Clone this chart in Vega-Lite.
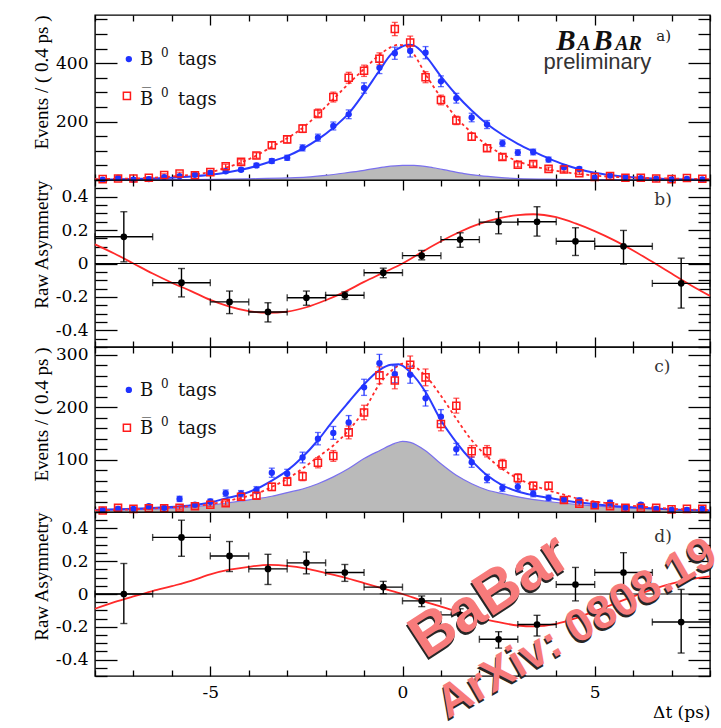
{
"$schema": "https://vega.github.io/schema/vega-lite/v6.json",
"autosize": {"type": "pad"},
"padding": {"left": 31, "top": 13, "right": 0, "bottom": 0},
"background": "white",
"spacing": 0,
"bounds": "flush",
"datasets": {
"one": [{}],
"ptsA": [
{"t":-7.8,"b":1,"be":1.0,"r":3,"re":1.7},{"t":-7.4,"b":7,"be":2.6,"r":5,"re":2.2},{"t":-7.0,"b":1,"be":1.0,"r":5,"re":2.2},{"t":-6.6,"b":3,"be":1.7,"r":8,"re":2.8},
{"t":-6.2,"b":10,"be":3.2,"r":17,"re":4.1},{"t":-5.8,"b":13,"be":3.6,"r":22,"re":4.7},{"t":-5.4,"b":18,"be":4.2,"r":16,"re":4.0},{"t":-5.0,"b":24,"be":4.9,"r":27,"re":5.2},
{"t":-4.6,"b":30,"be":5.5,"r":47,"re":6.9},{"t":-4.2,"b":35,"be":5.9,"r":62,"re":7.9},{"t":-3.8,"b":50,"be":7.1,"r":84,"re":9.2},{"t":-3.4,"b":65,"be":8.1,"r":119,"re":10.9},
{"t":-3.0,"b":76,"be":8.7,"r":139,"re":11.8},{"t":-2.6,"b":110,"be":10.5,"r":176,"re":13.3},{"t":-2.2,"b":145,"be":12.0,"r":228,"re":15.1},{"t":-1.8,"b":185,"be":13.6,"r":284,"re":16.9},
{"t":-1.4,"b":225,"be":15.0,"r":350,"re":18.7},{"t":-1.0,"b":315,"be":17.7,"r":374,"re":19.3},{"t":-0.6,"b":384,"be":19.6,"r":415,"re":20.4},{"t":-0.2,"b":434,"be":20.8,"r":517,"re":22.7},
{"t":0.2,"b":442,"be":21.0,"r":471,"re":21.7},{"t":0.6,"b":436,"be":20.9,"r":352,"re":18.8},{"t":1.0,"b":338,"be":18.4,"r":274,"re":16.6},{"t":1.4,"b":280,"be":16.7,"r":204,"re":14.3},
{"t":1.8,"b":214,"be":14.6,"r":148,"re":12.2},{"t":2.2,"b":190,"be":13.8,"r":109,"re":10.4},{"t":2.6,"b":126,"be":11.2,"r":79,"re":8.9},{"t":3.0,"b":94,"be":9.7,"r":52,"re":7.2},
{"t":3.4,"b":96,"be":9.8,"r":55,"re":7.4},{"t":3.8,"b":70,"be":8.4,"r":38,"re":6.2},{"t":4.2,"b":44,"be":6.6,"r":36,"re":6.0},{"t":4.6,"b":38,"be":6.2,"r":23,"re":4.8},
{"t":5.0,"b":8,"be":2.8,"r":10,"re":3.2},{"t":5.4,"b":15,"be":3.9,"r":14,"re":3.7},{"t":5.8,"b":10,"be":3.2,"r":8,"re":2.8},{"t":6.2,"b":6,"be":2.4,"r":8,"re":2.8},
{"t":6.6,"b":5,"be":2.2,"r":5,"re":2.2},{"t":7.0,"b":2,"be":1.4,"r":3,"re":1.7},{"t":7.4,"b":4,"be":2.0,"r":7,"re":2.6},{"t":7.8,"b":2,"be":1.4,"r":4,"re":2.0}
],
"fitAb": [
{"t":-8,"n":1},{"t":-7.5,"n":2},{"t":-7,"n":3},{"t":-6.5,"n":5},{"t":-6,"n":8},{"t":-5.5,"n":12},{"t":-5,"n":18},{"t":-4.6,"n":25},{"t":-4.2,"n":35},{"t":-3.8,"n":48},
{"t":-3.4,"n":64},{"t":-3,"n":82},{"t":-2.6,"n":107},{"t":-2.2,"n":139},{"t":-1.8,"n":179},{"t":-1.4,"n":228},{"t":-1,"n":298},{"t":-0.6,"n":375},{"t":-0.3,"n":430},{"t":0,"n":458},
{"t":0.15,"n":463},{"t":0.3,"n":460},{"t":0.6,"n":425},{"t":1,"n":355},{"t":1.4,"n":292},{"t":1.8,"n":238},{"t":2.2,"n":192},{"t":2.6,"n":155},{"t":3,"n":124},{"t":3.4,"n":98},
{"t":3.8,"n":74},{"t":4.2,"n":53},{"t":4.6,"n":37},{"t":5,"n":25},{"t":5.4,"n":17},{"t":5.8,"n":11},{"t":6.2,"n":7},{"t":7,"n":3},{"t":8,"n":1}
],
"fitAr": [
{"t":-8,"n":3},{"t":-7.5,"n":4},{"t":-7,"n":5},{"t":-6.5,"n":8},{"t":-6,"n":12},{"t":-5.5,"n":18},{"t":-5,"n":27},{"t":-4.6,"n":42},{"t":-4.2,"n":60},{"t":-3.8,"n":84},
{"t":-3.4,"n":114},{"t":-3,"n":143},{"t":-2.6,"n":178},{"t":-2.2,"n":225},{"t":-1.8,"n":277},{"t":-1.4,"n":330},{"t":-1,"n":380},{"t":-0.6,"n":428},{"t":-0.3,"n":455},{"t":-0.1,"n":463},
{"t":0.1,"n":458},{"t":0.3,"n":430},{"t":0.6,"n":362},{"t":1,"n":283},{"t":1.4,"n":214},{"t":1.8,"n":162},{"t":2.2,"n":120},{"t":2.6,"n":88},{"t":3,"n":64},{"t":3.4,"n":47},
{"t":3.8,"n":36},{"t":4.2,"n":27},{"t":4.6,"n":21},{"t":5,"n":15},{"t":5.8,"n":9},{"t":6.6,"n":6},{"t":7.4,"n":4},{"t":8,"n":3}
],
"bgA": [
{"t":-8,"n":0.5},{"t":-6,"n":1},{"t":-5,"n":2},{"t":-4,"n":4},{"t":-3,"n":7},{"t":-2.5,"n":10},{"t":-2,"n":16},{"t":-1.5,"n":24},{"t":-1,"n":33},{"t":-0.5,"n":44},
{"t":0,"n":50},{"t":0.3,"n":50},{"t":0.8,"n":42},{"t":1.2,"n":32},{"t":1.6,"n":22},{"t":2,"n":15},{"t":2.5,"n":9},{"t":3,"n":5},{"t":4,"n":2.5},{"t":5,"n":1.5},{"t":6,"n":1},{"t":8,"n":0.5}
],
"ptsC": [
{"t":-7.8,"b":4,"be":2.0,"r":3,"re":1.7},{"t":-7.4,"b":6,"be":2.4,"r":8,"re":2.8},{"t":-7.0,"b":6,"be":2.4,"r":6,"re":2.4},{"t":-6.6,"b":11,"be":3.3,"r":7,"re":2.6},
{"t":-6.2,"b":8,"be":2.8,"r":7,"re":2.6},{"t":-5.8,"b":25,"be":5.0,"r":8,"re":2.8},{"t":-5.4,"b":14,"be":3.7,"r":11,"re":3.3},{"t":-5.0,"b":20,"be":4.5,"r":14,"re":3.7},
{"t":-4.6,"b":36,"be":6.0,"r":17,"re":4.1},{"t":-4.2,"b":35,"be":5.9,"r":29,"re":5.4},{"t":-3.8,"b":42,"be":6.5,"r":31,"re":5.6},{"t":-3.4,"b":75,"be":8.7,"r":48,"re":6.9},
{"t":-3.0,"b":73,"be":8.5,"r":58,"re":7.6},{"t":-2.6,"b":104,"be":10.2,"r":68,"re":8.2},{"t":-2.2,"b":140,"be":11.8,"r":94,"re":9.7},{"t":-1.8,"b":151,"be":12.3,"r":107,"re":10.3},
{"t":-1.4,"b":171,"be":13.1,"r":152,"re":12.3},{"t":-1.0,"b":238,"be":15.4,"r":190,"re":13.8},{"t":-0.6,"b":284,"be":16.9,"r":261,"re":16.2},{"t":-0.2,"b":263,"be":16.2,"r":251,"re":15.8},
{"t":0.2,"b":262,"be":16.2,"r":281,"re":16.8},{"t":0.6,"b":217,"be":14.7,"r":257,"re":16.0},{"t":1.0,"b":182,"be":13.5,"r":168,"re":13.0},{"t":1.4,"b":120,"be":11.0,"r":203,"re":14.2},
{"t":1.8,"b":95,"be":9.7,"r":116,"re":10.8},{"t":2.2,"b":64,"be":8.0,"r":116,"re":10.8},{"t":2.6,"b":46,"be":6.8,"r":91,"re":9.5},{"t":3.0,"b":48,"be":6.9,"r":65,"re":8.1},
{"t":3.4,"b":35,"be":5.9,"r":50,"re":7.1},{"t":3.8,"b":27,"be":5.2,"r":50,"re":7.1},{"t":4.2,"b":24,"be":4.9,"r":23,"re":4.8},{"t":4.6,"b":22,"be":4.7,"r":16,"re":4.0},
{"t":5.0,"b":13,"be":3.6,"r":13,"re":3.6},{"t":5.4,"b":18,"be":4.2,"r":11,"re":3.3},{"t":5.8,"b":8,"be":2.8,"r":8,"re":2.8},{"t":6.2,"b":14,"be":3.7,"r":8,"re":2.8},
{"t":6.6,"b":6,"be":2.4,"r":8,"re":2.8},{"t":7.0,"b":4,"be":2.0,"r":5,"re":2.2},{"t":7.4,"b":4,"be":2.0,"r":6,"re":2.4},{"t":7.8,"b":6,"be":2.4,"r":6,"re":2.4}
],
"fitCb": [
{"t":-8,"n":4},{"t":-7,"n":6},{"t":-6.2,"n":9},{"t":-5.6,"n":12},{"t":-5,"n":18},{"t":-4.6,"n":26},{"t":-4.2,"n":33},{"t":-3.8,"n":44},{"t":-3.4,"n":60},{"t":-3,"n":79},
{"t":-2.6,"n":105},{"t":-2.2,"n":137},{"t":-1.8,"n":175},{"t":-1.4,"n":210},{"t":-1,"n":244},{"t":-0.6,"n":271},{"t":-0.3,"n":281},{"t":-0.1,"n":282},{"t":0.2,"n":267},{"t":0.6,"n":229},
{"t":1,"n":175},{"t":1.4,"n":133},{"t":1.8,"n":98},{"t":2.2,"n":70},{"t":2.6,"n":51},{"t":3,"n":39},{"t":3.4,"n":32},{"t":3.8,"n":27},{"t":4.2,"n":22},{"t":5,"n":15},{"t":6.2,"n":8},{"t":7,"n":5},{"t":8,"n":3}
],
"fitCr": [
{"t":-8,"n":3},{"t":-7,"n":5},{"t":-6,"n":9},{"t":-5,"n":15},{"t":-4.5,"n":22},{"t":-4.2,"n":27},{"t":-3.8,"n":35},{"t":-3.4,"n":48},{"t":-3,"n":63},{"t":-2.6,"n":83},
{"t":-2.2,"n":105},{"t":-1.8,"n":127},{"t":-1.4,"n":156},{"t":-1,"n":194},{"t":-0.6,"n":244},{"t":-0.2,"n":275},{"t":0,"n":283},{"t":0.2,"n":281},{"t":0.6,"n":260},{"t":1,"n":222},
{"t":1.4,"n":178},{"t":1.8,"n":137},{"t":2.2,"n":106},{"t":2.6,"n":82},{"t":3,"n":64},{"t":3.4,"n":51},{"t":3.8,"n":41},{"t":4.2,"n":33},{"t":4.6,"n":25},{"t":5,"n":20},{"t":5.8,"n":13},{"t":6.6,"n":8},{"t":7.4,"n":5},{"t":8,"n":4}
],
"bgC": [
{"t":-8,"n":3},{"t":-7,"n":4.5},{"t":-6,"n":7},{"t":-5,"n":13},{"t":-4.5,"n":18},{"t":-4.2,"n":21},{"t":-3.8,"n":25},{"t":-3.4,"n":30},{"t":-3,"n":37},{"t":-2.6,"n":44},
{"t":-2.2,"n":54},{"t":-1.8,"n":67},{"t":-1.4,"n":83},{"t":-1,"n":102},{"t":-0.6,"n":117},{"t":-0.2,"n":131},{"t":0,"n":135},{"t":0.2,"n":133},{"t":0.6,"n":117},{"t":1,"n":92},
{"t":1.4,"n":70},{"t":1.8,"n":54},{"t":2.2,"n":42},{"t":2.6,"n":35},{"t":3,"n":29},{"t":3.8,"n":20},{"t":4.6,"n":14},{"t":5.8,"n":8},{"t":7,"n":5},{"t":8,"n":3}
],
"asymB": [
{"t":-7.25,"tl":-8,"th":-6.5,"a":0.16,"al":0.01,"ah":0.31},{"t":-5.75,"tl":-6.5,"th":-5,"a":-0.115,"al":-0.2,"ah":-0.03},
{"t":-4.5,"tl":-5,"th":-4,"a":-0.23,"al":-0.3,"ah":-0.165},{"t":-3.5,"tl":-4,"th":-3,"a":-0.29,"al":-0.35,"ah":-0.235},
{"t":-2.5,"tl":-3,"th":-2,"a":-0.205,"al":-0.25,"ah":-0.165},{"t":-1.5,"tl":-2,"th":-1,"a":-0.19,"al":-0.215,"ah":-0.17},
{"t":-0.5,"tl":-1,"th":0,"a":-0.055,"al":-0.085,"ah":-0.028},{"t":0.5,"tl":0,"th":1,"a":0.047,"al":0.022,"ah":0.078},
{"t":1.5,"tl":1,"th":2,"a":0.143,"al":0.097,"ah":0.184},{"t":2.5,"tl":2,"th":3,"a":0.248,"al":0.178,"ah":0.31},
{"t":3.5,"tl":3,"th":4,"a":0.25,"al":0.164,"ah":0.34},{"t":4.5,"tl":4,"th":5,"a":0.133,"al":0.048,"ah":0.214},
{"t":5.75,"tl":5,"th":6.5,"a":0.103,"al":-0.004,"ah":0.198},{"t":7.25,"tl":6.5,"th":8,"a":-0.119,"al":-0.267,"ah":0.032}
],
"curveB": [
{"t":-8,"a":0.115},{"t":-7.5,"a":0.06},{"t":-7,"a":0.0},{"t":-6.5,"a":-0.06},{"t":-6,"a":-0.115},{"t":-5.5,"a":-0.165},{"t":-5,"a":-0.218},{"t":-4.5,"a":-0.258},
{"t":-4,"a":-0.285},{"t":-3.5,"a":-0.295},{"t":-3,"a":-0.288},{"t":-2.5,"a":-0.262},{"t":-2,"a":-0.22},{"t":-1.5,"a":-0.17},{"t":-1,"a":-0.11},{"t":-0.5,"a":-0.055},
{"t":0,"a":0},{"t":0.5,"a":0.068},{"t":1,"a":0.133},{"t":1.5,"a":0.19},{"t":2,"a":0.237},{"t":2.5,"a":0.27},{"t":3,"a":0.29},{"t":3.4,"a":0.295},{"t":4,"a":0.277},
{"t":4.5,"a":0.24},{"t":5,"a":0.194},{"t":5.5,"a":0.14},{"t":6,"a":0.078},{"t":6.5,"a":0.01},{"t":7,"a":-0.06},{"t":7.5,"a":-0.13},{"t":8,"a":-0.194}
],
"asymD": [
{"t":-7.25,"tl":-8,"th":-6.5,"a":0.0,"al":-0.18,"ah":0.186},{"t":-5.75,"tl":-6.5,"th":-5,"a":0.345,"al":0.23,"ah":0.45},
{"t":-4.5,"tl":-5,"th":-4,"a":0.232,"al":0.137,"ah":0.32},{"t":-3.5,"tl":-4,"th":-3,"a":0.153,"al":0.058,"ah":0.242},
{"t":-2.5,"tl":-3,"th":-2,"a":0.19,"al":0.123,"ah":0.256},{"t":-1.5,"tl":-2,"th":-1,"a":0.131,"al":0.077,"ah":0.18},
{"t":-0.5,"tl":-1,"th":0,"a":0.042,"al":0.002,"ah":0.077},{"t":0.5,"tl":0,"th":1,"a":-0.042,"al":-0.077,"ah":-0.012},
{"t":1.5,"tl":1,"th":2,"a":-0.127,"al":-0.18,"ah":-0.09},{"t":2.5,"tl":2,"th":3,"a":-0.276,"al":-0.33,"ah":-0.23},
{"t":3.5,"tl":3,"th":4,"a":-0.186,"al":-0.256,"ah":-0.13},{"t":4.5,"tl":4,"th":5,"a":0.058,"al":-0.042,"ah":0.162},
{"t":5.75,"tl":5,"th":6.5,"a":0.131,"al":0.002,"ah":0.252},{"t":7.25,"tl":6.5,"th":8,"a":-0.171,"al":-0.36,"ah":0.028}
],
"curveD": [
{"t":-8,"a":-0.09},{"t":-7.5,"a":-0.05},{"t":-7,"a":-0.015},{"t":-6.5,"a":0.018},{"t":-6,"a":0.048},{"t":-5.5,"a":0.08},{"t":-5,"a":0.12},{"t":-4.5,"a":0.148},
{"t":-4,"a":0.166},{"t":-3.45,"a":0.177},{"t":-3,"a":0.172},{"t":-2.5,"a":0.155},{"t":-2,"a":0.128},{"t":-1.5,"a":0.1},{"t":-1,"a":0.067},{"t":-0.5,"a":0.033},
{"t":0,"a":0},{"t":0.5,"a":-0.04},{"t":1,"a":-0.077},{"t":1.5,"a":-0.113},{"t":2,"a":-0.145},{"t":2.5,"a":-0.172},{"t":3,"a":-0.192},{"t":3.4,"a":-0.198},{"t":4,"a":-0.182},
{"t":4.5,"a":-0.148},{"t":5,"a":-0.105},{"t":5.5,"a":-0.06},{"t":6,"a":-0.015},{"t":6.5,"a":0.028},{"t":7,"a":0.063},{"t":7.5,"a":0.09},{"t":8,"a":0.107}
]
},
"vconcat": [
{
"width": 615, "height": 165,
"layer": [
{"layer": [
{"data":{"name":"bgA"},"mark":{"type":"area","color":"#bababa","interpolate":"monotone"},
 "encoding":{"x":{"field":"t","type":"quantitative","title":null,"scale":{"domain":[-8,8],"nice":false,"zero":false},"axis":{"orient":"bottom","values":[-5,0,5],"tickSize":-10,"labels":false,"title":null}},
 "y":{"field":"n","type":"quantitative","title":"Events / ( 0.4 ps )","scale":{"domain":[0,565],"nice":false,"zero":false},"axis":{"orient":"left","values":[200,400],"tickSize":-22,"labelPadding":29,"title":"Events / ( 0.4 ps )","titleAnchor":"end","titlePadding":4}}}},
{"data":{"name":"bgA"},"mark":{"type":"line","color":"#7a70ee","strokeWidth":1.2,"interpolate":"monotone"},
 "encoding":{"x":{"field":"t","type":"quantitative","title":null,"scale":{"domain":[-8,8],"nice":false,"zero":false}},"y":{"field":"n","type":"quantitative","title":"Events / ( 0.4 ps )","scale":{"domain":[0,565],"nice":false,"zero":false}}}},
{"data":{"name":"fitAb"},"mark":{"type":"line","color":"#2b3cff","strokeWidth":2,"interpolate":"monotone"},
 "encoding":{"x":{"field":"t","type":"quantitative","title":null,"scale":{"domain":[-8,8],"nice":false,"zero":false}},"y":{"field":"n","type":"quantitative","title":"Events / ( 0.4 ps )","scale":{"domain":[0,565],"nice":false,"zero":false}}}},
{"data":{"name":"fitAr"},"mark":{"type":"line","color":"#ff2b2b","strokeWidth":1.8,"strokeDash":[3,3],"interpolate":"monotone"},
 "encoding":{"x":{"field":"t","type":"quantitative","title":null,"scale":{"domain":[-8,8],"nice":false,"zero":false}},"y":{"field":"n","type":"quantitative","title":"Events / ( 0.4 ps )","scale":{"domain":[0,565],"nice":false,"zero":false}}}},
{"data":{"name":"ptsA"},"mark":{"type":"errorbar","ticks":{"size":6},"thickness":1.3,"color":"#1f32ff"},
 "encoding":{"x":{"field":"t","type":"quantitative","title":null,"scale":{"domain":[-8,8],"nice":false,"zero":false}},"y":{"field":"b","type":"quantitative","title":"Events / ( 0.4 ps )","scale":{"domain":[0,565],"nice":false,"zero":false}},"yError":{"field":"be"}}},
{"data":{"name":"ptsA"},"mark":{"type":"errorbar","ticks":{"size":6},"thickness":1.3,"color":"#ff1a1a"},
 "encoding":{"x":{"field":"t","type":"quantitative","title":null,"scale":{"domain":[-8,8],"nice":false,"zero":false}},"y":{"field":"r","type":"quantitative","title":"Events / ( 0.4 ps )","scale":{"domain":[0,565],"nice":false,"zero":false}},"yError":{"field":"re"}}},
{"data":{"name":"ptsA"},"mark":{"type":"point","shape":"circle","filled":true,"size":40,"color":"#1f32ff","opacity":1},
 "encoding":{"x":{"field":"t","type":"quantitative","title":null,"scale":{"domain":[-8,8],"nice":false,"zero":false}},"y":{"field":"b","type":"quantitative","title":"Events / ( 0.4 ps )","scale":{"domain":[0,565],"nice":false,"zero":false}}}},
{"data":{"name":"ptsA"},"mark":{"type":"point","shape":"square","filled":false,"size":50,"color":"#ff1a1a","strokeWidth":1.5,"opacity":1},
 "encoding":{"x":{"field":"t","type":"quantitative","title":null,"scale":{"domain":[-8,8],"nice":false,"zero":false}},"y":{"field":"r","type":"quantitative","title":"Events / ( 0.4 ps )","scale":{"domain":[0,565],"nice":false,"zero":false}}}},
{"data":{"name":"one"},"mark":{"type":"point","shape":"circle","filled":true,"size":40,"color":"#1f32ff","opacity":1},
 "encoding":{"x":{"datum":-7.12,"type":"quantitative","scale":{"domain":[-8,8],"nice":false,"zero":false}},"y":{"datum":414,"type":"quantitative","scale":{"domain":[0,565],"nice":false,"zero":false}}}},
{"data":{"name":"one"},"mark":{"type":"text","text":"B","align":"left","baseline":"alphabetic","font":"DejaVu Serif","fontSize":18,"color":"#111"},
 "encoding":{"x":{"datum":-6.83,"type":"quantitative","scale":{"domain":[-8,8],"nice":false,"zero":false}},"y":{"datum":395,"type":"quantitative","scale":{"domain":[0,565],"nice":false,"zero":false}}}},
{"data":{"name":"one"},"mark":{"type":"text","text":"0","dx":21,"dy":-8,"align":"left","baseline":"alphabetic","font":"DejaVu Serif","fontSize":12,"color":"#111"},
 "encoding":{"x":{"datum":-6.83,"type":"quantitative","scale":{"domain":[-8,8],"nice":false,"zero":false}},"y":{"datum":395,"type":"quantitative","scale":{"domain":[0,565],"nice":false,"zero":false}}}},
{"data":{"name":"one"},"mark":{"type":"text","text":"tags","dx":38,"align":"left","baseline":"alphabetic","font":"DejaVu Serif","fontSize":18,"color":"#111"},
 "encoding":{"x":{"datum":-6.83,"type":"quantitative","scale":{"domain":[-8,8],"nice":false,"zero":false}},"y":{"datum":395,"type":"quantitative","scale":{"domain":[0,565],"nice":false,"zero":false}}}},
{"data":{"name":"one"},"mark":{"type":"point","shape":"square","filled":false,"size":50,"color":"#ff1a1a","strokeWidth":1.5,"opacity":1},
 "encoding":{"x":{"datum":-7.17,"type":"quantitative","scale":{"domain":[-8,8],"nice":false,"zero":false}},"y":{"datum":288,"type":"quantitative","scale":{"domain":[0,565],"nice":false,"zero":false}}}},
{"data":{"name":"one"},"mark":{"type":"text","text":"B\u0305","align":"left","baseline":"alphabetic","font":"DejaVu Serif","fontSize":18,"color":"#111"},
 "encoding":{"x":{"datum":-6.83,"type":"quantitative","scale":{"domain":[-8,8],"nice":false,"zero":false}},"y":{"datum":258,"type":"quantitative","scale":{"domain":[0,565],"nice":false,"zero":false}}}},
{"data":{"name":"one"},"mark":{"type":"text","text":"0","dx":21,"dy":-8,"align":"left","baseline":"alphabetic","font":"DejaVu Serif","fontSize":12,"color":"#111"},
 "encoding":{"x":{"datum":-6.83,"type":"quantitative","scale":{"domain":[-8,8],"nice":false,"zero":false}},"y":{"datum":258,"type":"quantitative","scale":{"domain":[0,565],"nice":false,"zero":false}}}},
{"data":{"name":"one"},"mark":{"type":"text","text":"tags","dx":38,"align":"left","baseline":"alphabetic","font":"DejaVu Serif","fontSize":18,"color":"#111"},
 "encoding":{"x":{"datum":-6.83,"type":"quantitative","scale":{"domain":[-8,8],"nice":false,"zero":false}},"y":{"datum":258,"type":"quantitative","scale":{"domain":[0,565],"nice":false,"zero":false}}}},
{"data":{"name":"one"},"mark":{"type":"text","text":"B","align":"left","baseline":"alphabetic","font":"Liberation Serif","fontStyle":"italic","fontWeight":"bold","fontSize":29,"color":"#111"},
 "encoding":{"x":{"datum":4.0,"type":"quantitative","scale":{"domain":[-8,8],"nice":false,"zero":false}},"y":{"datum":444,"type":"quantitative","scale":{"domain":[0,565],"nice":false,"zero":false}}}},
{"data":{"name":"one"},"mark":{"type":"text","text":"A","dx":21,"align":"left","baseline":"alphabetic","font":"Liberation Serif","fontStyle":"italic","fontWeight":"bold","fontSize":20,"color":"#111"},
 "encoding":{"x":{"datum":4.0,"type":"quantitative","scale":{"domain":[-8,8],"nice":false,"zero":false}},"y":{"datum":444,"type":"quantitative","scale":{"domain":[0,565],"nice":false,"zero":false}}}},
{"data":{"name":"one"},"mark":{"type":"text","text":"B","dx":37,"align":"left","baseline":"alphabetic","font":"Liberation Serif","fontStyle":"italic","fontWeight":"bold","fontSize":29,"color":"#111"},
 "encoding":{"x":{"datum":4.0,"type":"quantitative","scale":{"domain":[-8,8],"nice":false,"zero":false}},"y":{"datum":444,"type":"quantitative","scale":{"domain":[0,565],"nice":false,"zero":false}}}},
{"data":{"name":"one"},"mark":{"type":"text","text":"AR","dx":59,"align":"left","baseline":"alphabetic","font":"Liberation Serif","fontStyle":"italic","fontWeight":"bold","fontSize":20,"color":"#111"},
 "encoding":{"x":{"datum":4.0,"type":"quantitative","scale":{"domain":[-8,8],"nice":false,"zero":false}},"y":{"datum":444,"type":"quantitative","scale":{"domain":[0,565],"nice":false,"zero":false}}}},
{"data":{"name":"one"},"mark":{"type":"text","text":"a)","align":"left","baseline":"alphabetic","font":"DejaVu Serif","fontSize":15,"color":"#222"},
 "encoding":{"x":{"datum":6.6,"type":"quantitative","scale":{"domain":[-8,8],"nice":false,"zero":false}},"y":{"datum":476,"type":"quantitative","scale":{"domain":[0,565],"nice":false,"zero":false}}}},
{"data":{"name":"one"},"mark":{"type":"text","text":"preliminary","align":"left","baseline":"alphabetic","font":"Liberation Sans","fontSize":22,"color":"#333"},
 "encoding":{"x":{"datum":3.67,"type":"quantitative","scale":{"domain":[-8,8],"nice":false,"zero":false}},"y":{"datum":381,"type":"quantitative","scale":{"domain":[0,565],"nice":false,"zero":false}}}}
]},
{"data":{"name":"bgA"},"mark":{"type":"point","opacity":0},
 "encoding":{"x":{"field":"t","type":"quantitative","scale":{"domain":[-8,8],"nice":false,"zero":false},"axis":{"orient":"bottom","values":[-8,-7,-6,-4,-3,-2,-1,1,2,3,4,6,7,8],"tickSize":-6,"labels":false,"title":null}},
 "y":{"field":"n","type":"quantitative","scale":{"domain":[0,565],"nice":false,"zero":false},"axis":{"orient":"left","values":[0,50,100,150,250,300,350,450,500,550],"tickSize":-12,"labels":false,"title":null}}}},
{"data":{"name":"bgA"},"mark":{"type":"point","opacity":0},
 "encoding":{"x":{"field":"t","type":"quantitative","scale":{"domain":[-8,8],"nice":false,"zero":false},"axis":{"orient":"top","values":[-5,0,5],"tickSize":-10,"labels":false,"title":null}},
 "y":{"field":"n","type":"quantitative","scale":{"domain":[0,565],"nice":false,"zero":false},"axis":{"orient":"right","values":[200,400],"tickSize":-22,"labels":false,"title":null}}}},
{"data":{"name":"bgA"},"mark":{"type":"point","opacity":0},
 "encoding":{"x":{"field":"t","type":"quantitative","scale":{"domain":[-8,8],"nice":false,"zero":false},"axis":{"orient":"top","values":[-8,-7,-6,-4,-3,-2,-1,1,2,3,4,6,7,8],"tickSize":-6,"labels":false,"title":null}},
 "y":{"field":"n","type":"quantitative","scale":{"domain":[0,565],"nice":false,"zero":false},"axis":{"orient":"right","values":[0,50,100,150,250,300,350,450,500,550],"tickSize":-12,"labels":false,"title":null}}}}
],
"resolve": {"axis": {"x": "independent", "y": "independent"}}
},
{
"width": 615, "height": 167,
"layer": [
{"layer": [
{"data":{"name":"curveB"},"mark":{"type":"line","color":"#ff2a2a","strokeWidth":1.8,"interpolate":"monotone"},
 "encoding":{"x":{"field":"t","type":"quantitative","title":null,"scale":{"domain":[-8,8],"nice":false,"zero":false},"axis":{"orient":"bottom","values":[-5,0,5],"tickSize":-10,"labels":false,"title":null}},
 "y":{"field":"a","type":"quantitative","title":"Raw Asymmetry","scale":{"domain":[-0.5,0.5],"nice":false,"zero":false},"axis":{"orient":"left","values":[-0.4,-0.2,0,0.2,0.4],"tickSize":-22,"labelPadding":29,"labelExpr":"datum.value == 0 ? '0' : replace(format(datum.value, '.1f'), '−', '-')","title":"Raw Asymmetry","titleAnchor":"end","titlePadding":4}}}},
{"data":{"name":"one"},"mark":{"type":"rule","color":"#000","strokeWidth":1.2},
 "encoding":{"y":{"datum":0,"type":"quantitative","scale":{"domain":[-0.5,0.5],"nice":false,"zero":false}}}},
{"data":{"name":"asymB"},"mark":{"type":"errorbar","ticks":{"size":7},"thickness":1.4,"color":"#000"},
 "encoding":{"x":{"field":"t","type":"quantitative","title":null,"scale":{"domain":[-8,8],"nice":false,"zero":false}},"y":{"field":"al","type":"quantitative","title":"Raw Asymmetry","scale":{"domain":[-0.5,0.5],"nice":false,"zero":false}},"y2":{"field":"ah"}}},
{"data":{"name":"asymB"},"mark":{"type":"errorbar","ticks":{"size":7},"thickness":1.4,"color":"#000"},
 "encoding":{"y":{"field":"a","type":"quantitative","title":"Raw Asymmetry","scale":{"domain":[-0.5,0.5],"nice":false,"zero":false}},"x":{"field":"tl","type":"quantitative","title":null,"scale":{"domain":[-8,8],"nice":false,"zero":false}},"x2":{"field":"th"}}},
{"data":{"name":"asymB"},"mark":{"type":"point","shape":"circle","filled":true,"size":45,"color":"#000","opacity":1},
 "encoding":{"x":{"field":"t","type":"quantitative","title":null,"scale":{"domain":[-8,8],"nice":false,"zero":false}},"y":{"field":"a","type":"quantitative","title":"Raw Asymmetry","scale":{"domain":[-0.5,0.5],"nice":false,"zero":false}}}},
{"data":{"name":"one"},"mark":{"type":"text","text":"b)","align":"left","baseline":"alphabetic","font":"DejaVu Serif","fontSize":17,"color":"#333"},
 "encoding":{"x":{"datum":6.55,"type":"quantitative","scale":{"domain":[-8,8],"nice":false,"zero":false}},"y":{"datum":0.35,"type":"quantitative","scale":{"domain":[-0.5,0.5],"nice":false,"zero":false}}}}
]},
{"data":{"name":"curveB"},"mark":{"type":"point","opacity":0},
 "encoding":{"x":{"field":"t","type":"quantitative","scale":{"domain":[-8,8],"nice":false,"zero":false},"axis":{"orient":"bottom","values":[-8,-7,-6,-4,-3,-2,-1,1,2,3,4,6,7,8],"tickSize":-6,"labels":false,"title":null}},
 "y":{"field":"a","type":"quantitative","scale":{"domain":[-0.5,0.5],"nice":false,"zero":false},"axis":{"orient":"left","values":[-0.5,-0.45,-0.35,-0.3,-0.25,-0.15,-0.1,-0.05,0.05,0.1,0.15,0.25,0.3,0.35,0.45,0.5],"tickSize":-12,"labels":false,"title":null}}}},
{"data":{"name":"curveB"},"mark":{"type":"point","opacity":0},
 "encoding":{"x":{"field":"t","type":"quantitative","scale":{"domain":[-8,8],"nice":false,"zero":false},"axis":{"orient":"top","values":[-5,0,5],"tickSize":-10,"labels":false,"title":null}},
 "y":{"field":"a","type":"quantitative","scale":{"domain":[-0.5,0.5],"nice":false,"zero":false},"axis":{"orient":"right","values":[-0.4,-0.2,0,0.2,0.4],"tickSize":-22,"labels":false,"title":null}}}},
{"data":{"name":"curveB"},"mark":{"type":"point","opacity":0},
 "encoding":{"x":{"field":"t","type":"quantitative","scale":{"domain":[-8,8],"nice":false,"zero":false},"axis":{"orient":"top","values":[-8,-7,-6,-4,-3,-2,-1,1,2,3,4,6,7,8],"tickSize":-6,"labels":false,"title":null}},
 "y":{"field":"a","type":"quantitative","scale":{"domain":[-0.5,0.5],"nice":false,"zero":false},"axis":{"orient":"right","values":[-0.5,-0.45,-0.35,-0.3,-0.25,-0.15,-0.1,-0.05,0.05,0.1,0.15,0.25,0.3,0.35,0.45,0.5],"tickSize":-12,"labels":false,"title":null}}}}
],
"resolve": {"axis": {"x": "independent", "y": "independent"}}
},
{
"width": 615, "height": 165,
"layer": [
{"layer": [
{"data":{"name":"bgC"},"mark":{"type":"area","color":"#bababa","interpolate":"monotone"},
 "encoding":{"x":{"field":"t","type":"quantitative","title":null,"scale":{"domain":[-8,8],"nice":false,"zero":false},"axis":{"orient":"bottom","values":[-5,0,5],"tickSize":-10,"labels":false,"title":null}},
 "y":{"field":"n","type":"quantitative","title":"Events / ( 0.4 ps )","scale":{"domain":[0,315],"nice":false,"zero":false},"axis":{"orient":"left","values":[100,200,300],"tickSize":-22,"labelPadding":29,"title":"Events / ( 0.4 ps )","titleAnchor":"end","titlePadding":4}}}},
{"data":{"name":"bgC"},"mark":{"type":"line","color":"#7a70ee","strokeWidth":1.2,"interpolate":"monotone"},
 "encoding":{"x":{"field":"t","type":"quantitative","title":null,"scale":{"domain":[-8,8],"nice":false,"zero":false}},"y":{"field":"n","type":"quantitative","title":"Events / ( 0.4 ps )","scale":{"domain":[0,315],"nice":false,"zero":false}}}},
{"data":{"name":"fitCb"},"mark":{"type":"line","color":"#2b3cff","strokeWidth":2,"interpolate":"monotone"},
 "encoding":{"x":{"field":"t","type":"quantitative","title":null,"scale":{"domain":[-8,8],"nice":false,"zero":false}},"y":{"field":"n","type":"quantitative","title":"Events / ( 0.4 ps )","scale":{"domain":[0,315],"nice":false,"zero":false}}}},
{"data":{"name":"fitCr"},"mark":{"type":"line","color":"#ff2b2b","strokeWidth":1.8,"strokeDash":[3,3],"interpolate":"monotone"},
 "encoding":{"x":{"field":"t","type":"quantitative","title":null,"scale":{"domain":[-8,8],"nice":false,"zero":false}},"y":{"field":"n","type":"quantitative","title":"Events / ( 0.4 ps )","scale":{"domain":[0,315],"nice":false,"zero":false}}}},
{"data":{"name":"ptsC"},"mark":{"type":"errorbar","ticks":{"size":6},"thickness":1.3,"color":"#1f32ff"},
 "encoding":{"x":{"field":"t","type":"quantitative","title":null,"scale":{"domain":[-8,8],"nice":false,"zero":false}},"y":{"field":"b","type":"quantitative","title":"Events / ( 0.4 ps )","scale":{"domain":[0,315],"nice":false,"zero":false}},"yError":{"field":"be"}}},
{"data":{"name":"ptsC"},"mark":{"type":"errorbar","ticks":{"size":6},"thickness":1.3,"color":"#ff1a1a"},
 "encoding":{"x":{"field":"t","type":"quantitative","title":null,"scale":{"domain":[-8,8],"nice":false,"zero":false}},"y":{"field":"r","type":"quantitative","title":"Events / ( 0.4 ps )","scale":{"domain":[0,315],"nice":false,"zero":false}},"yError":{"field":"re"}}},
{"data":{"name":"ptsC"},"mark":{"type":"point","shape":"circle","filled":true,"size":40,"color":"#1f32ff","opacity":1},
 "encoding":{"x":{"field":"t","type":"quantitative","title":null,"scale":{"domain":[-8,8],"nice":false,"zero":false}},"y":{"field":"b","type":"quantitative","title":"Events / ( 0.4 ps )","scale":{"domain":[0,315],"nice":false,"zero":false}}}},
{"data":{"name":"ptsC"},"mark":{"type":"point","shape":"square","filled":false,"size":50,"color":"#ff1a1a","strokeWidth":1.5,"opacity":1},
 "encoding":{"x":{"field":"t","type":"quantitative","title":null,"scale":{"domain":[-8,8],"nice":false,"zero":false}},"y":{"field":"r","type":"quantitative","title":"Events / ( 0.4 ps )","scale":{"domain":[0,315],"nice":false,"zero":false}}}},
{"data":{"name":"one"},"mark":{"type":"point","shape":"circle","filled":true,"size":40,"color":"#1f32ff","opacity":1},
 "encoding":{"x":{"datum":-7.12,"type":"quantitative","scale":{"domain":[-8,8],"nice":false,"zero":false}},"y":{"datum":233,"type":"quantitative","scale":{"domain":[0,315],"nice":false,"zero":false}}}},
{"data":{"name":"one"},"mark":{"type":"text","text":"B","align":"left","baseline":"alphabetic","font":"DejaVu Serif","fontSize":18,"color":"#111"},
 "encoding":{"x":{"datum":-6.83,"type":"quantitative","scale":{"domain":[-8,8],"nice":false,"zero":false}},"y":{"datum":221,"type":"quantitative","scale":{"domain":[0,315],"nice":false,"zero":false}}}},
{"data":{"name":"one"},"mark":{"type":"text","text":"0","dx":21,"dy":-8,"align":"left","baseline":"alphabetic","font":"DejaVu Serif","fontSize":12,"color":"#111"},
 "encoding":{"x":{"datum":-6.83,"type":"quantitative","scale":{"domain":[-8,8],"nice":false,"zero":false}},"y":{"datum":221,"type":"quantitative","scale":{"domain":[0,315],"nice":false,"zero":false}}}},
{"data":{"name":"one"},"mark":{"type":"text","text":"tags","dx":38,"align":"left","baseline":"alphabetic","font":"DejaVu Serif","fontSize":18,"color":"#111"},
 "encoding":{"x":{"datum":-6.83,"type":"quantitative","scale":{"domain":[-8,8],"nice":false,"zero":false}},"y":{"datum":221,"type":"quantitative","scale":{"domain":[0,315],"nice":false,"zero":false}}}},
{"data":{"name":"one"},"mark":{"type":"point","shape":"square","filled":false,"size":50,"color":"#ff1a1a","strokeWidth":1.5,"opacity":1},
 "encoding":{"x":{"datum":-7.17,"type":"quantitative","scale":{"domain":[-8,8],"nice":false,"zero":false}},"y":{"datum":161,"type":"quantitative","scale":{"domain":[0,315],"nice":false,"zero":false}}}},
{"data":{"name":"one"},"mark":{"type":"text","text":"B\u0305","align":"left","baseline":"alphabetic","font":"DejaVu Serif","fontSize":18,"color":"#111"},
 "encoding":{"x":{"datum":-6.83,"type":"quantitative","scale":{"domain":[-8,8],"nice":false,"zero":false}},"y":{"datum":148,"type":"quantitative","scale":{"domain":[0,315],"nice":false,"zero":false}}}},
{"data":{"name":"one"},"mark":{"type":"text","text":"0","dx":21,"dy":-8,"align":"left","baseline":"alphabetic","font":"DejaVu Serif","fontSize":12,"color":"#111"},
 "encoding":{"x":{"datum":-6.83,"type":"quantitative","scale":{"domain":[-8,8],"nice":false,"zero":false}},"y":{"datum":148,"type":"quantitative","scale":{"domain":[0,315],"nice":false,"zero":false}}}},
{"data":{"name":"one"},"mark":{"type":"text","text":"tags","dx":38,"align":"left","baseline":"alphabetic","font":"DejaVu Serif","fontSize":18,"color":"#111"},
 "encoding":{"x":{"datum":-6.83,"type":"quantitative","scale":{"domain":[-8,8],"nice":false,"zero":false}},"y":{"datum":148,"type":"quantitative","scale":{"domain":[0,315],"nice":false,"zero":false}}}},
{"data":{"name":"one"},"mark":{"type":"text","text":"c)","align":"left","baseline":"alphabetic","font":"DejaVu Serif","fontSize":17,"color":"#333"},
 "encoding":{"x":{"datum":6.55,"type":"quantitative","scale":{"domain":[-8,8],"nice":false,"zero":false}},"y":{"datum":268,"type":"quantitative","scale":{"domain":[0,315],"nice":false,"zero":false}}}}
]},
{"data":{"name":"bgC"},"mark":{"type":"point","opacity":0},
 "encoding":{"x":{"field":"t","type":"quantitative","scale":{"domain":[-8,8],"nice":false,"zero":false},"axis":{"orient":"bottom","values":[-8,-7,-6,-4,-3,-2,-1,1,2,3,4,6,7,8],"tickSize":-6,"labels":false,"title":null}},
 "y":{"field":"n","type":"quantitative","scale":{"domain":[0,315],"nice":false,"zero":false},"axis":{"orient":"left","values":[0,20,40,60,80,120,140,160,180,220,240,260,280],"tickSize":-12,"labels":false,"title":null}}}},
{"data":{"name":"bgC"},"mark":{"type":"point","opacity":0},
 "encoding":{"x":{"field":"t","type":"quantitative","scale":{"domain":[-8,8],"nice":false,"zero":false},"axis":{"orient":"top","values":[-5,0,5],"tickSize":-10,"labels":false,"title":null}},
 "y":{"field":"n","type":"quantitative","scale":{"domain":[0,315],"nice":false,"zero":false},"axis":{"orient":"right","values":[100,200,300],"tickSize":-22,"labels":false,"title":null}}}},
{"data":{"name":"bgC"},"mark":{"type":"point","opacity":0},
 "encoding":{"x":{"field":"t","type":"quantitative","scale":{"domain":[-8,8],"nice":false,"zero":false},"axis":{"orient":"top","values":[-8,-7,-6,-4,-3,-2,-1,1,2,3,4,6,7,8],"tickSize":-6,"labels":false,"title":null}},
 "y":{"field":"n","type":"quantitative","scale":{"domain":[0,315],"nice":false,"zero":false},"axis":{"orient":"right","values":[0,20,40,60,80,120,140,160,180,220,240,260,280],"tickSize":-12,"labels":false,"title":null}}}}
],
"resolve": {"axis": {"x": "independent", "y": "independent"}}
},
{
"width": 615, "height": 164,
"layer": [
{"layer": [
{"data":{"name":"curveD"},"mark":{"type":"line","color":"#ff2a2a","strokeWidth":1.8,"interpolate":"monotone"},
 "encoding":{"x":{"field":"t","type":"quantitative","title":"Δt (ps)","scale":{"domain":[-8,8],"nice":false,"zero":false},"axis":{"orient":"bottom","values":[-5,0,5],"tickSize":-10,"labelPadding":18,"labelExpr":"replace(format(datum.value, 'd'), '−', '-')","title":"Δt (ps)","titleAnchor":"end","titleFont":"DejaVu Serif","titleFontSize":17,"titlePadding":4}},
 "y":{"field":"a","type":"quantitative","title":"Raw Asymmetry","scale":{"domain":[-0.5,0.5],"nice":false,"zero":false},"axis":{"orient":"left","values":[-0.4,-0.2,0,0.2,0.4],"tickSize":-22,"labelPadding":29,"labelExpr":"datum.value == 0 ? '0' : replace(format(datum.value, '.1f'), '−', '-')","title":"Raw Asymmetry","titleAnchor":"end","titlePadding":4}}}},
{"data":{"name":"one"},"mark":{"type":"rule","color":"#000","strokeWidth":1.2},
 "encoding":{"y":{"datum":0,"type":"quantitative","scale":{"domain":[-0.5,0.5],"nice":false,"zero":false}}}},
{"data":{"name":"asymD"},"mark":{"type":"errorbar","ticks":{"size":7},"thickness":1.4,"color":"#000"},
 "encoding":{"x":{"field":"t","type":"quantitative","title":"Δt (ps)","scale":{"domain":[-8,8],"nice":false,"zero":false}},"y":{"field":"al","type":"quantitative","title":"Raw Asymmetry","scale":{"domain":[-0.5,0.5],"nice":false,"zero":false}},"y2":{"field":"ah"}}},
{"data":{"name":"asymD"},"mark":{"type":"errorbar","ticks":{"size":7},"thickness":1.4,"color":"#000"},
 "encoding":{"y":{"field":"a","type":"quantitative","title":"Raw Asymmetry","scale":{"domain":[-0.5,0.5],"nice":false,"zero":false}},"x":{"field":"tl","type":"quantitative","title":"Δt (ps)","scale":{"domain":[-8,8],"nice":false,"zero":false}},"x2":{"field":"th"}}},
{"data":{"name":"asymD"},"mark":{"type":"point","shape":"circle","filled":true,"size":45,"color":"#000","opacity":1},
 "encoding":{"x":{"field":"t","type":"quantitative","title":"Δt (ps)","scale":{"domain":[-8,8],"nice":false,"zero":false}},"y":{"field":"a","type":"quantitative","title":"Raw Asymmetry","scale":{"domain":[-0.5,0.5],"nice":false,"zero":false}}}},
{"data":{"name":"one"},"mark":{"type":"text","text":"d)","align":"left","baseline":"alphabetic","font":"DejaVu Serif","fontSize":17,"color":"#333"},
 "encoding":{"x":{"datum":6.55,"type":"quantitative","scale":{"domain":[-8,8],"nice":false,"zero":false}},"y":{"datum":0.317,"type":"quantitative","scale":{"domain":[-0.5,0.5],"nice":false,"zero":false}}}},
{"data":{"name":"one"},"mark":{"type":"text","text":"BaBar","dx":-2,"dy":2,"angle":-33,"align":"left","baseline":"alphabetic","font":"Liberation Sans","fontWeight":"bold","fontSize":60,"color":"#262626"},
 "encoding":{"x":{"datum":0.6,"type":"quantitative","scale":{"domain":[-8,8],"nice":false,"zero":false}},"y":{"datum":-0.4,"type":"quantitative","scale":{"domain":[-0.5,0.5],"nice":false,"zero":false}}}},
{"data":{"name":"one"},"mark":{"type":"text","text":"BaBar","angle":-33,"align":"left","baseline":"alphabetic","font":"Liberation Sans","fontWeight":"bold","fontSize":60,"color":"#f77b7b"},
 "encoding":{"x":{"datum":0.6,"type":"quantitative","scale":{"domain":[-8,8],"nice":false,"zero":false}},"y":{"datum":-0.4,"type":"quantitative","scale":{"domain":[-0.5,0.5],"nice":false,"zero":false}}}},
{"data":{"name":"one"},"mark":{"type":"text","text":"ArXiv: 0808.19","dx":-2,"dy":2,"angle":-30,"align":"left","baseline":"alphabetic","font":"Liberation Sans","fontWeight":"bold","fontSize":46,"color":"#262626"},
 "encoding":{"x":{"datum":1.18,"type":"quantitative","scale":{"domain":[-8,8],"nice":false,"zero":false}},"y":{"datum":-0.762,"type":"quantitative","scale":{"domain":[-0.5,0.5],"nice":false,"zero":false}}}},
{"data":{"name":"one"},"mark":{"type":"text","text":"ArXiv: 0808.19","angle":-30,"align":"left","baseline":"alphabetic","font":"Liberation Sans","fontWeight":"bold","fontSize":46,"color":"#f77b7b"},
 "encoding":{"x":{"datum":1.18,"type":"quantitative","scale":{"domain":[-8,8],"nice":false,"zero":false}},"y":{"datum":-0.762,"type":"quantitative","scale":{"domain":[-0.5,0.5],"nice":false,"zero":false}}}}
]},
{"data":{"name":"curveD"},"mark":{"type":"point","opacity":0},
 "encoding":{"x":{"field":"t","type":"quantitative","scale":{"domain":[-8,8],"nice":false,"zero":false},"axis":{"orient":"bottom","values":[-8,-7,-6,-4,-3,-2,-1,1,2,3,4,6,7,8],"tickSize":-6,"labels":false,"title":null}},
 "y":{"field":"a","type":"quantitative","scale":{"domain":[-0.5,0.5],"nice":false,"zero":false},"axis":{"orient":"left","values":[-0.5,-0.45,-0.35,-0.3,-0.25,-0.15,-0.1,-0.05,0.05,0.1,0.15,0.25,0.3,0.35,0.45,0.5],"tickSize":-12,"labels":false,"title":null}}}},
{"data":{"name":"curveD"},"mark":{"type":"point","opacity":0},
 "encoding":{"x":{"field":"t","type":"quantitative","scale":{"domain":[-8,8],"nice":false,"zero":false},"axis":{"orient":"top","values":[-5,0,5],"tickSize":-10,"labels":false,"title":null}},
 "y":{"field":"a","type":"quantitative","scale":{"domain":[-0.5,0.5],"nice":false,"zero":false},"axis":{"orient":"right","values":[-0.4,-0.2,0,0.2,0.4],"tickSize":-22,"labels":false,"title":null}}}},
{"data":{"name":"curveD"},"mark":{"type":"point","opacity":0},
 "encoding":{"x":{"field":"t","type":"quantitative","scale":{"domain":[-8,8],"nice":false,"zero":false},"axis":{"orient":"top","values":[-8,-7,-6,-4,-3,-2,-1,1,2,3,4,6,7,8],"tickSize":-6,"labels":false,"title":null}},
 "y":{"field":"a","type":"quantitative","scale":{"domain":[-0.5,0.5],"nice":false,"zero":false},"axis":{"orient":"right","values":[-0.5,-0.45,-0.35,-0.3,-0.25,-0.15,-0.1,-0.05,0.05,0.1,0.15,0.25,0.3,0.35,0.45,0.5],"tickSize":-12,"labels":false,"title":null}}}}
],
"resolve": {"axis": {"x": "independent", "y": "independent"}}
}
],
"config": {
"background": "white",
"view": {"stroke": "#000", "strokeWidth": 1.4},
"axis": {"domain": false, "grid": false, "tickColor": "#000", "tickWidth": 1.3, "labelFont": "DejaVu Serif", "labelFontSize": 17, "labelColor": "#000", "titleFont": "Liberation Serif", "titleFontSize": 19, "titleFontWeight": "normal", "titleColor": "#000"}
}
}
